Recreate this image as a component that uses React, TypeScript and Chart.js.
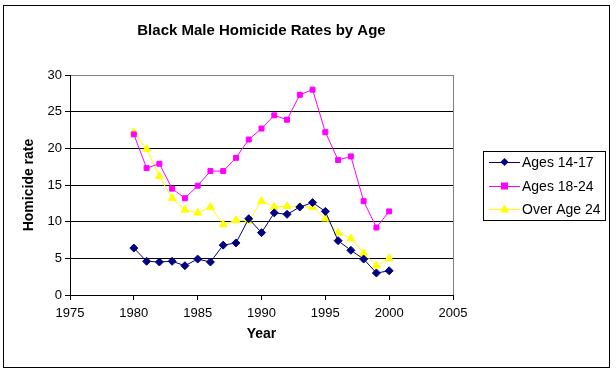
import React, { useEffect, useRef } from "react";
import { Chart, registerables } from "chart.js";

Chart.register(...registerables);

const years = [1980, 1981, 1982, 1983, 1984, 1985, 1986, 1987, 1988, 1989, 1990, 1991, 1992, 1993, 1994, 1995, 1996, 1997, 1998, 1999, 2000];
const ages1417 = [6.4, 4.6, 4.5, 4.6, 4.0, 4.9, 4.5, 6.8, 7.1, 10.4, 8.5, 11.2, 11.0, 12.0, 12.6, 11.4, 7.4, 6.1, 4.9, 3.0, 3.3];
const ages1824 = [21.9, 17.3, 17.9, 14.5, 13.2, 14.9, 16.9, 16.9, 18.7, 21.2, 22.7, 24.5, 23.9, 27.3, 28.0, 22.2, 18.4, 18.9, 12.8, 9.2, 11.4];
const over24 = [22.2, 19.9, 16.2, 13.2, 11.6, 11.2, 12.0, 9.6, 10.2, 10.1, 12.8, 12.0, 12.1, 12.1, 12.0, 10.4, 8.5, 7.7, 5.7, 4.0, 5.0];
const seriesLabels = ["Ages 14-17", "Ages 18-24", "Over Age 24"];
const titleText = "Black Male Homicide Rates by Age";
const xTitle = "Year";
const yTitle = "Homicide rate";

const FONT = "'Liberation Sans', Arial, sans-serif";

const decor = {
  id: "decor",
  afterDraw(chart: any) {
    const { ctx, chartArea } = chart;
    ctx.save();
    // outer border
    ctx.strokeStyle = "#000";
    ctx.lineWidth = 1;
    ctx.strokeRect(3.5, 5.5, 606, 362);
    // plot right border
    ctx.strokeStyle = "#808080";
    ctx.beginPath();
    ctx.moveTo(Math.round(chartArea.right) + 0.5, chartArea.top);
    ctx.lineTo(Math.round(chartArea.right) + 0.5, chartArea.bottom);
    ctx.stroke();
    // title
    ctx.fillStyle = "#000";
    ctx.font = `bold 15px ${FONT}`;
    ctx.textAlign = "center";
    ctx.textBaseline = "middle";
    ctx.fillText(titleText, (chartArea.left + chartArea.right) / 2, 31);
    // x title
    ctx.font = `bold 14px ${FONT}`;
    ctx.fillText(xTitle, (chartArea.left + chartArea.right) / 2, 334);
    // y title
    ctx.save();
    ctx.translate(29, (chartArea.top + chartArea.bottom) / 2);
    ctx.rotate(-Math.PI / 2);
    ctx.fillText(yTitle, 0, 0);
    ctx.restore();
    // legend
    ctx.strokeStyle = "#000";
    ctx.strokeRect(483.5, 151.5, 122, 69);
    const rows = [162, 186, 209];
    chart.data.datasets.forEach((ds: any, i: number) => {
      const y = rows[i];
      ctx.strokeStyle = ds.borderColor;
      ctx.lineWidth = 1;
      ctx.beginPath();
      ctx.moveTo(489, y + 0.5);
      ctx.lineTo(520, y + 0.5);
      ctx.stroke();
      ctx.fillStyle = ds.pointBackgroundColor;
      const cx = 504.5;
      ctx.beginPath();
      if (ds.pointStyle === "rectRot") {
        ctx.moveTo(cx, y - 4);
        ctx.lineTo(cx + 4, y);
        ctx.lineTo(cx, y + 4);
        ctx.lineTo(cx - 4, y);
      } else if (ds.pointStyle === "rect") {
        ctx.rect(cx - 3.5, y - 3.5, 7, 7);
      } else {
        ctx.moveTo(cx, y - 4.5);
        ctx.lineTo(cx + 4.5, y + 3.5);
        ctx.lineTo(cx - 4.5, y + 3.5);
      }
      ctx.closePath();
      ctx.fill();
      ctx.fillStyle = "#000";
      ctx.font = `14px ${FONT}`;
      ctx.textAlign = "left";
      ctx.textBaseline = "middle";
      ctx.fillText(ds.label, 522, y + 1);
    });
    ctx.restore();
  },
};

export default function App() {
  const ref = useRef<HTMLCanvasElement>(null);
  useEffect(() => {
    document.body.style.margin = "0";
    const mk = (vals: number[]) => years.map((y, i) => ({ x: y, y: vals[i] }));
    const chart = new Chart(ref.current!, {
      type: "line",
      data: {
        datasets: [
          {
            label: seriesLabels[0],
            data: mk(ages1417),
            borderColor: "#000080",
            backgroundColor: "#000080",
            pointBackgroundColor: "#000080",
            pointBorderColor: "#000080",
            pointStyle: "rectRot",
            pointRadius: 4,
            borderWidth: 1,
          },
          {
            label: seriesLabels[1],
            data: mk(ages1824),
            borderColor: "#FF00FF",
            backgroundColor: "#FF00FF",
            pointBackgroundColor: "#FF00FF",
            pointBorderColor: "#FF00FF",
            pointStyle: "rect",
            pointRadius: 3.5,
            borderWidth: 1,
          },
          {
            label: seriesLabels[2],
            data: mk(over24),
            borderColor: "#FFFF00",
            backgroundColor: "#FFFF00",
            pointBackgroundColor: "#FFFF00",
            pointBorderColor: "#FFFF00",
            pointStyle: "triangle",
            pointRadius: 4.5,
            borderWidth: 1,
          },
        ] as any,
      },
      options: {
        animation: false,
        responsive: false,
        events: [],
        layout: { padding: { left: 0, top: 75, right: 163, bottom: 0 } },
        plugins: { legend: { display: false }, tooltip: { enabled: false }, title: { display: false } },
        scales: {
          x: {
            type: "linear",
            min: 1975,
            max: 2005,
            afterFit: (s: any) => { s.height = 78; },
            ticks: { stepSize: 5, color: "#000", font: { family: FONT, size: 13 }, padding: 6, maxRotation: 0, callback: (v: any) => String(v) },
            grid: { drawOnChartArea: false, drawTicks: true, tickLength: 5, tickColor: "#000", color: "#000" },
            border: { color: "#000", width: 1 },
          },
          y: {
            min: 0,
            max: 30,
            afterFit: (s: any) => { s.width = 70; },
            ticks: { stepSize: 5, color: "#000", font: { family: FONT, size: 13 }, padding: 3 },
            grid: {
              tickLength: 5,
              tickColor: "#000",
              color: (c: any) => (c.tick && c.tick.value === 30 ? "#808080" : "#000"),
              lineWidth: 1,
            },
            border: { color: "#000", width: 1 },
          },
        },
      },
      plugins: [decor],
    });
    return () => chart.destroy();
  }, []);
  return (
    <div style={{ position: "absolute", left: 0, top: 0, width: 616, height: 373, background: "#fff" }}>
      <canvas ref={ref} width={616} height={373} />
    </div>
  );
}
